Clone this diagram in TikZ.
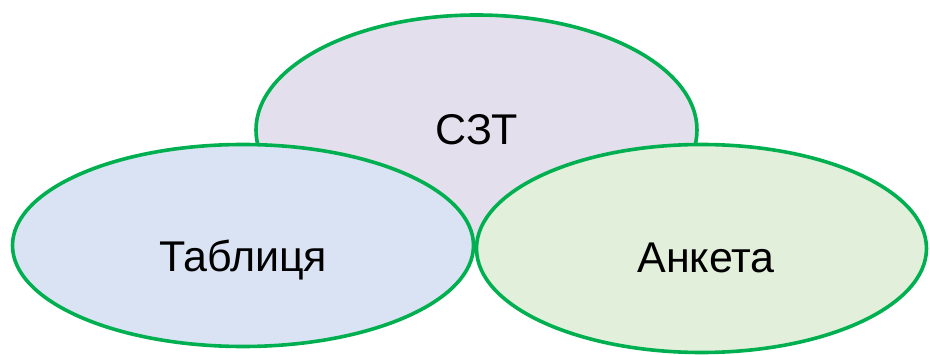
\documentclass[tikz,border=0pt]{standalone}
\usepackage{fontspec}
\setmainfont{Liberation Sans}
\usetikzlibrary{shapes.geometric}
\definecolor{strokegreen}{HTML}{00B050}
\definecolor{fillpurple}{HTML}{E4DFEC}
\definecolor{fillblue}{HTML}{DAE3F3}
\definecolor{fillgreen}{HTML}{E2EFDA}
\tikzset{
  oval/.style={ellipse, draw=strokegreen, line width=3.6pt, inner sep=0pt},
  lbl/.style={anchor=base, inner sep=0pt, font=\fontsize{43}{51}\selectfont}
}
\begin{document}
\begin{tikzpicture}[x=1pt,y=-1pt]
\useasboundingbox (0,0) rectangle (930,355);
\node[oval, fill=fillpurple, minimum width=441pt, minimum height=230pt] (top) at (476.5,130) {};
\node[oval, fill=fillblue, minimum width=461pt, minimum height=202pt] (left) at (243,245.5) {};
\node[oval, fill=fillgreen, minimum width=450pt, minimum height=208pt] (right) at (701.5,248.5) {};
\node[lbl] (tt) at (476.5,145) {СЗТ};
\node[lbl] (lt) at (243,272) {Таблиця};
\node[lbl] (rt) at (706,273) {Анкета};
\end{tikzpicture}
\end{document}
